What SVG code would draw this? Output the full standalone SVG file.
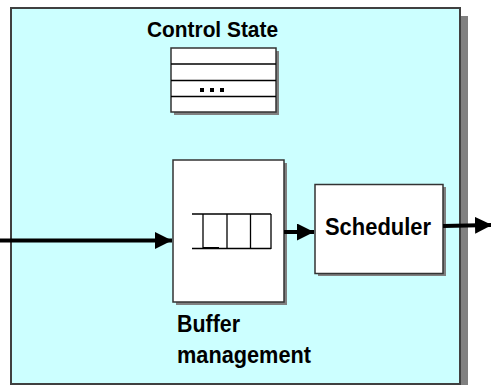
<svg xmlns="http://www.w3.org/2000/svg" width="491" height="385" viewBox="0 0 491 385">
  <defs>
    <marker id="arrow" viewBox="0 0 10 10" refX="10" refY="5" markerUnits="userSpaceOnUse" markerWidth="18" markerHeight="17" orient="auto">
      <path d="M0,0 L10,5 L0,10 Z" fill="#000"/>
    </marker>
    <marker id="arrowSmall" viewBox="0 0 10 10" refX="10" refY="5" markerUnits="userSpaceOnUse" markerWidth="17" markerHeight="17" orient="auto">
      <path d="M0,0 L10,5 L0,10 Z" fill="#000"/>
    </marker>
  </defs>
  <style>
    .shadow { fill: #808080; }
    .box { fill: #ffffff; stroke: #333333; stroke-width: 1.5; }
    .line { stroke: #000000; stroke-width: 1.3; fill: none; }
    .label { font-family: "Liberation Sans", Arial, sans-serif; font-weight: bold; fill: #000; }
    .conn { stroke: #000; stroke-width: 4; fill: none; }
  </style>

  <rect width="491" height="385" fill="#ffffff"/>

  <!-- router outline -->
  <g id="router">
    <rect class="shadow" x="460" y="16" width="8" height="369"/>
    <rect x="11" y="8" width="449" height="376" fill="#ccffff" stroke="#404040" stroke-width="2"/>
  </g>

  <!-- control state table -->
  <g id="control-state">
    <text class="label" x="147" y="37" font-size="22.5" textLength="131" lengthAdjust="spacingAndGlyphs">Control State</text>
    <rect class="shadow" x="174" y="51" width="105" height="64"/>
    <rect class="box" x="171" y="48" width="105" height="64"/>
    <line class="line" x1="171" y1="64" x2="276" y2="64"/>
    <line class="line" x1="171" y1="80.5" x2="276" y2="80.5"/>
    <line class="line" x1="171" y1="96.5" x2="276" y2="96.5"/>
    <rect x="200" y="88" width="4" height="4" fill="#000"/>
    <rect x="210" y="88" width="4" height="4" fill="#000"/>
    <rect x="220" y="88" width="4" height="4" fill="#000"/>
  </g>

  <!-- buffer management with queue -->
  <g id="buffer">
    <rect class="shadow" x="176" y="163" width="111" height="142"/>
    <rect class="box" x="173" y="160" width="111" height="142"/>
    <line class="line" x1="192" y1="214" x2="271" y2="214"/>
    <line class="line" x1="192" y1="248.5" x2="271" y2="248.5"/>
    <line x1="203" y1="248" x2="219" y2="248" stroke="#000" stroke-width="2"/>
    <line class="line" x1="203" y1="214" x2="203" y2="249"/>
    <line class="line" x1="227" y1="214" x2="227" y2="249"/>
    <line class="line" x1="250.5" y1="214" x2="250.5" y2="249"/>
    <line class="line" x1="271" y1="214" x2="271" y2="249"/>
    <text class="label" x="177" y="332" font-size="23" textLength="63" lengthAdjust="spacingAndGlyphs">Buffer</text>
    <text class="label" x="177" y="363" font-size="23" textLength="134" lengthAdjust="spacingAndGlyphs">management</text>
  </g>

  <!-- scheduler -->
  <g id="scheduler">
    <rect class="shadow" x="318" y="187" width="128" height="89"/>
    <rect class="box" x="315" y="184.5" width="128" height="89"/>
    <text class="label" x="325" y="235" font-size="23.5" textLength="106" lengthAdjust="spacingAndGlyphs">Scheduler</text>
  </g>

  <!-- connectors -->
  <g id="connectors">
    <line class="conn" x1="0" y1="240.5" x2="172" y2="240.5" marker-end="url(#arrow)"/>
    <line class="conn" x1="284" y1="232" x2="314" y2="232" marker-end="url(#arrowSmall)"/>
    <line class="conn" x1="443" y1="226" x2="492" y2="225" marker-end="url(#arrowSmall)"/>
  </g>
</svg>
